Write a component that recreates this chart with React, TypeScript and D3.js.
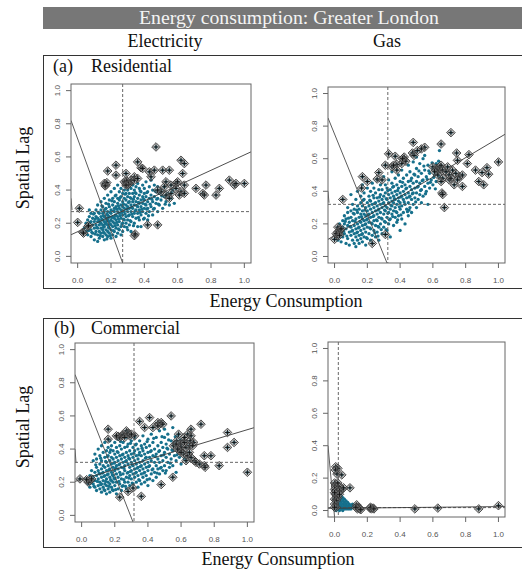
import React from 'react';
import * as d3 from 'd3';

type Pt = [number, number];

// ---- Residential electricity ----
const resElecCloud: Pt[] = [
  [0.04,0.17],[0.05,0.2],[0.05,0.15],[0.06,0.22],[0.06,0.13],[0.07,0.18],[0.07,0.28],[0.07,0.24],[0.08,0.16],[0.08,0.21],[0.08,0.12],[0.08,0.26],
  [0.09,0.19],[0.09,0.14],[0.09,0.23],[0.1,0.17],[0.1,0.21],[0.1,0.1],[0.1,0.26],[0.11,0.15],[0.11,0.19],[0.11,0.24],[0.11,0.28],[0.12,0.13],[0.12,0.17],[0.12,0.21],[0.12,0.23],[0.12,0.31],[0.12,0.09],
  [0.13,0.15],[0.13,0.19],[0.13,0.26],[0.13,0.22],[0.13,0.11],[0.14,0.17],[0.14,0.2],[0.14,0.24],[0.14,0.28],[0.14,0.14],[0.14,0.33],[0.15,0.12],[0.15,0.16],[0.15,0.19],[0.15,0.22],[0.15,0.26],[0.15,0.3],[0.16,0.1],[0.16,0.14],[0.16,0.18],[0.16,0.21],[0.16,0.24],[0.16,0.27],[0.16,0.35],
  [0.17,0.13],[0.17,0.16],[0.17,0.2],[0.17,0.23],[0.17,0.29],[0.17,0.32],[0.18,0.12],[0.18,0.15],[0.18,0.19],[0.18,0.22],[0.18,0.25],[0.18,0.27],[0.18,0.37],[0.19,0.14],[0.19,0.17],[0.19,0.21],[0.19,0.24],[0.19,0.3],[0.19,0.34],[0.2,0.11],[0.2,0.16],[0.2,0.19],[0.2,0.22],[0.2,0.26],[0.2,0.28],[0.2,0.39],
  [0.21,0.13],[0.21,0.18],[0.21,0.21],[0.21,0.24],[0.21,0.31],[0.21,0.35],[0.22,0.15],[0.22,0.2],[0.22,0.23],[0.22,0.27],[0.22,0.29],[0.22,0.33],[0.22,0.41],[0.23,0.12],[0.23,0.17],[0.23,0.22],[0.23,0.25],[0.23,0.3],[0.23,0.37],[0.24,0.14],[0.24,0.19],[0.24,0.24],[0.24,0.27],[0.24,0.32],[0.24,0.35],[0.24,0.43],
  [0.25,0.16],[0.25,0.21],[0.25,0.26],[0.25,0.29],[0.25,0.34],[0.25,0.39],[0.26,0.13],[0.26,0.18],[0.26,0.23],[0.26,0.28],[0.26,0.31],[0.26,0.36],[0.26,0.41],[0.27,0.2],[0.27,0.25],[0.27,0.3],[0.27,0.33],[0.27,0.38],[0.27,0.15],[0.28,0.22],[0.28,0.27],[0.28,0.29],[0.28,0.35],[0.28,0.4],[0.28,0.18],
  [0.29,0.24],[0.29,0.31],[0.29,0.34],[0.29,0.38],[0.29,0.2],[0.29,0.42],[0.3,0.16],[0.3,0.22],[0.3,0.27],[0.3,0.3],[0.3,0.36],[0.3,0.4],[0.31,0.19],[0.31,0.25],[0.31,0.29],[0.31,0.33],[0.31,0.38],[0.32,0.21],[0.32,0.27],[0.32,0.31],[0.32,0.35],[0.32,0.41],[0.32,0.15],
  [0.33,0.24],[0.33,0.29],[0.33,0.33],[0.33,0.38],[0.33,0.43],[0.34,0.2],[0.34,0.26],[0.34,0.31],[0.34,0.36],[0.34,0.4],[0.35,0.23],[0.35,0.28],[0.35,0.33],[0.35,0.38],[0.35,0.42],[0.36,0.18],[0.36,0.26],[0.36,0.3],[0.36,0.35],[0.36,0.44],
  [0.37,0.22],[0.37,0.28],[0.37,0.32],[0.37,0.37],[0.37,0.41],[0.38,0.25],[0.38,0.3],[0.38,0.34],[0.38,0.39],[0.38,0.18],[0.39,0.27],[0.39,0.32],[0.39,0.36],[0.39,0.43],[0.4,0.23],[0.4,0.29],[0.4,0.34],[0.4,0.38],[0.4,0.41],
  [0.41,0.26],[0.41,0.31],[0.41,0.36],[0.41,0.45],[0.42,0.22],[0.42,0.29],[0.42,0.33],[0.42,0.39],[0.43,0.27],[0.43,0.35],[0.43,0.42],[0.44,0.3],[0.44,0.37],[0.44,0.46],[0.45,0.25],[0.45,0.33],[0.45,0.4],
  [0.46,0.29],[0.46,0.36],[0.46,0.43],[0.47,0.32],[0.47,0.39],[0.48,0.27],[0.48,0.35],[0.48,0.42],[0.49,0.31],[0.49,0.38],[0.5,0.34],[0.5,0.4],[0.51,0.29],[0.52,0.36],[0.52,0.42],[0.53,0.33],[0.54,0.38],[0.55,0.31],[0.56,0.35],[0.58,0.32],[0.57,0.4],
  [0.065,0.155],[0.075,0.205],[0.085,0.145],[0.095,0.255],[0.105,0.135],[0.105,0.225],[0.115,0.175],[0.125,0.265],[0.135,0.125],[0.135,0.205],[0.145,0.225],[0.145,0.305],[0.155,0.145],[0.155,0.175],[0.155,0.245],[0.165,0.195],[0.165,0.285],[0.175,0.105],[0.175,0.215],[0.175,0.255],
  [0.185,0.175],[0.185,0.235],[0.185,0.315],[0.195,0.125],[0.195,0.195],[0.195,0.265],[0.205,0.235],[0.205,0.335],[0.215,0.155],[0.215,0.275],[0.225,0.185],[0.225,0.245],[0.225,0.365],[0.235,0.205],[0.235,0.285],[0.245,0.165],[0.245,0.225],[0.245,0.305],[0.255,0.245],[0.255,0.355],
  [0.265,0.195],[0.265,0.265],[0.275,0.225],[0.275,0.315],[0.285,0.255],[0.285,0.375],[0.295,0.175],[0.295,0.285],[0.305,0.245],[0.305,0.325],[0.315,0.215],[0.315,0.355],[0.325,0.255],[0.325,0.295],[0.335,0.185],[0.335,0.345],[0.345,0.275],[0.345,0.385],[0.355,0.305],[0.365,0.235],
  [0.365,0.325],[0.375,0.265],[0.375,0.395],[0.385,0.285],[0.395,0.225],[0.395,0.345],[0.405,0.315],[0.415,0.285],[0.415,0.385],[0.425,0.245],[0.435,0.315],[0.445,0.345],[0.455,0.285],[0.465,0.395],[0.475,0.345],[0.485,0.315],[0.505,0.365],[0.525,0.315],[0.545,0.355],[0.565,0.385],
];
const resElecInfluential: Pt[] = [
  [0.47,0.66],[0.23,0.55],[0.36,0.57],[0.18,0.515],[0.23,0.49],[0.29,0.5],[0.34,0.48],[0.38,0.535],[0.39,0.53],[0.43,0.51],[0.46,0.52],[0.51,0.52],[0.55,0.52],[0.44,0.48],
  [0.16,0.44],[0.17,0.43],[0.175,0.445],[0.165,0.425],
  [0.29,0.44],[0.3,0.45],[0.31,0.44],[0.3,0.43],[0.32,0.46],[0.28,0.45],[0.295,0.455],[0.305,0.435],[0.29,0.43],
  [0.34,0.46],[0.36,0.47],
  [0.62,0.58],[0.64,0.56],[0.63,0.5],
  [0.53,0.45],[0.56,0.43],[0.59,0.44],[0.64,0.43],[0.59,0.41],[0.62,0.39],[0.61,0.37],[0.64,0.38],[0.56,0.38],[0.53,0.37],[0.55,0.35],[0.5,0.39],[0.48,0.4],[0.52,0.42],[0.6,0.45],
  [0.71,0.41],[0.75,0.38],[0.76,0.37],[0.77,0.43],[0.83,0.37],[0.85,0.41],[0.91,0.46],[0.94,0.43],[0.95,0.44],[1.0,0.44],
  [0.42,0.19],[0.48,0.19],[0.34,0.125],[0.345,0.135],
  [0.01,0.29],[0.0,0.205],[0.06,0.18],[0.03,0.145],[0.035,0.14],[0.065,0.185],
];

// ---- Residential gas ----
const resGasCloud: Pt[] = [
  [0.01,0.13],[0.02,0.1],[0.02,0.17],[0.03,0.12],[0.03,0.2],[0.04,0.15],[0.04,0.09],[0.05,0.18],[0.05,0.22],[0.05,0.12],
  [0.06,0.14],[0.06,0.2],[0.06,0.25],[0.07,0.08],[0.07,0.17],[0.07,0.23],[0.08,0.11],[0.08,0.19],[0.08,0.27],[0.08,0.3],[0.09,0.15],[0.09,0.21],[0.09,0.07],[0.1,0.13],[0.1,0.18],[0.1,0.24],[0.1,0.28],[0.1,0.38],
  [0.11,0.1],[0.11,0.16],[0.11,0.22],[0.11,0.32],[0.12,0.08],[0.12,0.14],[0.12,0.19],[0.12,0.26],[0.12,0.29],[0.13,0.12],[0.13,0.17],[0.13,0.23],[0.13,0.35],[0.13,0.06],[0.14,0.1],[0.14,0.15],[0.14,0.2],[0.14,0.27],[0.14,0.31],[0.14,0.4],[0.15,0.13],[0.15,0.18],[0.15,0.24],[0.15,0.29],[0.15,0.08],
  [0.16,0.11],[0.16,0.16],[0.16,0.21],[0.16,0.26],[0.16,0.33],[0.16,0.37],[0.17,0.09],[0.17,0.14],[0.17,0.19],[0.17,0.23],[0.17,0.28],[0.17,0.31],[0.17,0.44],[0.18,0.12],[0.18,0.17],[0.18,0.22],[0.18,0.26],[0.18,0.35],[0.18,0.39],[0.19,0.15],[0.19,0.2],[0.19,0.25],[0.19,0.3],[0.19,0.07],[0.2,0.11],[0.2,0.18],[0.2,0.23],[0.2,0.28],[0.2,0.33],[0.2,0.42],
  [0.21,0.14],[0.21,0.21],[0.21,0.26],[0.21,0.31],[0.21,0.37],[0.22,0.1],[0.22,0.17],[0.22,0.24],[0.22,0.29],[0.22,0.34],[0.22,0.4],[0.23,0.13],[0.23,0.2],[0.23,0.27],[0.23,0.32],[0.23,0.45],[0.24,0.16],[0.24,0.22],[0.24,0.25],[0.24,0.3],[0.24,0.36],[0.24,0.42],[0.25,0.12],[0.25,0.19],[0.25,0.28],[0.25,0.33],[0.25,0.39],
  [0.26,0.15],[0.26,0.22],[0.26,0.26],[0.26,0.31],[0.26,0.36],[0.26,0.47],[0.27,0.18],[0.27,0.24],[0.27,0.29],[0.27,0.34],[0.27,0.41],[0.27,0.1],[0.28,0.2],[0.28,0.27],[0.28,0.32],[0.28,0.38],[0.28,0.44],[0.29,0.14],[0.29,0.23],[0.29,0.3],[0.29,0.35],[0.29,0.41],[0.3,0.18],[0.3,0.26],[0.3,0.33],[0.3,0.37],[0.3,0.49],
  [0.31,0.21],[0.31,0.28],[0.31,0.31],[0.31,0.39],[0.31,0.44],[0.32,0.16],[0.32,0.24],[0.32,0.3],[0.32,0.35],[0.32,0.42],[0.33,0.2],[0.33,0.27],[0.33,0.33],[0.33,0.38],[0.33,0.47],[0.34,0.23],[0.34,0.29],[0.34,0.36],[0.34,0.41],[0.34,0.12],[0.35,0.26],[0.35,0.31],[0.35,0.34],[0.35,0.39],[0.35,0.45],[0.35,0.52],
  [0.36,0.19],[0.36,0.28],[0.36,0.33],[0.36,0.37],[0.36,0.43],[0.37,0.24],[0.37,0.3],[0.37,0.35],[0.37,0.4],[0.37,0.48],[0.38,0.21],[0.38,0.27],[0.38,0.32],[0.38,0.38],[0.38,0.44],[0.39,0.25],[0.39,0.34],[0.39,0.36],[0.39,0.42],[0.39,0.5],[0.4,0.16],[0.4,0.29],[0.4,0.33],[0.4,0.39],[0.4,0.46],
  [0.41,0.23],[0.41,0.31],[0.41,0.37],[0.41,0.43],[0.41,0.53],[0.42,0.27],[0.42,0.35],[0.42,0.4],[0.42,0.48],[0.43,0.2],[0.43,0.32],[0.43,0.38],[0.43,0.44],[0.44,0.29],[0.44,0.36],[0.44,0.42],[0.44,0.5],[0.45,0.25],[0.45,0.33],[0.45,0.39],[0.45,0.46],[0.45,0.56],
  [0.46,0.3],[0.46,0.37],[0.46,0.43],[0.46,0.52],[0.47,0.27],[0.47,0.35],[0.47,0.41],[0.47,0.48],[0.48,0.32],[0.48,0.39],[0.48,0.45],[0.48,0.58],[0.49,0.36],[0.49,0.42],[0.49,0.5],[0.5,0.3],[0.5,0.39],[0.5,0.46],[0.5,0.61],[0.5,0.54],
  [0.51,0.35],[0.51,0.43],[0.51,0.49],[0.52,0.38],[0.52,0.45],[0.52,0.57],[0.53,0.41],[0.53,0.51],[0.54,0.37],[0.54,0.47],[0.54,0.6],[0.55,0.43],[0.55,0.53],[0.55,0.62],[0.56,0.4],[0.56,0.49],[0.57,0.45],[0.57,0.56],[0.58,0.42],[0.58,0.51],[0.59,0.47],[0.6,0.54],[0.6,0.44],[0.61,0.5],[0.62,0.57],[0.62,0.46],[0.63,0.52],[0.64,0.65],[0.64,0.49],[0.65,0.55],[0.57,0.32],[0.53,0.33],
  [0.025,0.145],[0.035,0.175],[0.055,0.155],[0.065,0.215],[0.075,0.125],[0.085,0.235],[0.095,0.185],[0.105,0.155],[0.115,0.265],[0.125,0.215],[0.135,0.145],[0.135,0.285],[0.145,0.175],[0.155,0.215],[0.165,0.135],[0.165,0.245],[0.175,0.345],[0.185,0.195],[0.185,0.285],[0.195,0.115],
  [0.195,0.225],[0.205,0.255],[0.215,0.175],[0.215,0.345],[0.225,0.205],[0.235,0.245],[0.235,0.375],[0.245,0.145],[0.245,0.325],[0.255,0.225],[0.265,0.285],[0.265,0.185],[0.275,0.365],[0.285,0.235],[0.285,0.165],[0.295,0.325],[0.305,0.215],[0.305,0.285],[0.315,0.355],[0.325,0.265],
  [0.325,0.405],[0.335,0.225],[0.345,0.315],[0.355,0.245],[0.355,0.425],[0.365,0.355],[0.375,0.275],[0.385,0.405],[0.395,0.305],[0.405,0.365],[0.405,0.255],[0.415,0.455],[0.425,0.335],[0.435,0.415],[0.445,0.275],[0.455,0.365],[0.465,0.465],[0.475,0.385],[0.485,0.505],[0.495,0.335],
  [0.505,0.425],[0.515,0.525],[0.525,0.405],[0.535,0.465],[0.545,0.555],[0.555,0.385],[0.565,0.475],[0.575,0.525],[0.585,0.455],[0.595,0.575],[0.605,0.485],[0.615,0.415],[0.625,0.515],[0.635,0.585],[0.455,0.285],[0.385,0.225],[0.315,0.165],[0.265,0.125],
];
const resGasInfluential: Pt[] = [
  [0.71,0.76],[0.48,0.7],[0.65,0.69],[0.55,0.67],[0.53,0.66],[0.505,0.65],[0.475,0.635],[0.485,0.62],
  [0.33,0.63],[0.37,0.615],[0.42,0.595],[0.425,0.61],[0.41,0.57],[0.435,0.585],[0.415,0.6],
  [0.31,0.56],[0.35,0.55],[0.38,0.565],[0.38,0.53],[0.36,0.56],
  [0.27,0.515],[0.17,0.49],[0.2,0.46],[0.26,0.475],[0.29,0.47],[0.165,0.42],
  [0.05,0.35],
  [0.745,0.635],[0.82,0.625],[0.75,0.59],[0.81,0.57],[0.86,0.53],[0.9,0.515],[0.93,0.545],[0.94,0.505],[1.0,0.58],[0.88,0.46],[0.91,0.44],
  [0.6,0.55],[0.62,0.54],[0.63,0.53],[0.64,0.55],[0.65,0.56],[0.61,0.52],[0.66,0.53],[0.68,0.52],[0.7,0.5],[0.72,0.53],[0.74,0.51],[0.76,0.49],[0.78,0.5],[0.75,0.47],[0.73,0.44],[0.7,0.47],[0.66,0.48],[0.65,0.46],[0.71,0.48],[0.78,0.43],[0.69,0.55],[0.63,0.5],
  [0.655,0.39],[0.66,0.38],[0.67,0.3],
  [0.0,0.105],[0.02,0.18],[0.02,0.15],[0.025,0.14],[0.03,0.155],[0.018,0.13],[0.035,0.165],[0.04,0.17],[0.01,0.14],[0.03,0.13],
  [0.23,0.08],[0.31,0.135],
];

// ---- Commercial electricity ----
const comElecCloud: Pt[] = [
  [0.03,0.22],[0.04,0.19],[0.05,0.24],[0.05,0.17],[0.06,0.21],[0.06,0.27],[0.07,0.19],[0.07,0.23],[0.07,0.33],[0.08,0.17],[0.08,0.26],[0.08,0.37],[0.08,0.21],
  [0.09,0.15],[0.09,0.24],[0.09,0.29],[0.09,0.34],[0.1,0.18],[0.1,0.22],[0.1,0.27],[0.1,0.4],[0.11,0.16],[0.11,0.2],[0.11,0.25],[0.11,0.31],[0.11,0.36],[0.12,0.14],[0.12,0.19],[0.12,0.23],[0.12,0.28],[0.12,0.33],[0.12,0.42],[0.13,0.17],[0.13,0.21],[0.13,0.26],[0.13,0.3],[0.13,0.38],
  [0.14,0.15],[0.14,0.19],[0.14,0.24],[0.14,0.29],[0.14,0.35],[0.14,0.44],[0.15,0.13],[0.15,0.18],[0.15,0.22],[0.15,0.27],[0.15,0.32],[0.15,0.39],[0.16,0.16],[0.16,0.2],[0.16,0.25],[0.16,0.3],[0.16,0.36],[0.16,0.41],[0.17,0.14],[0.17,0.19],[0.17,0.23],[0.17,0.28],[0.17,0.33],[0.17,0.38],[0.17,0.45],[0.18,0.17],[0.18,0.21],[0.18,0.26],[0.18,0.31],[0.18,0.35],[0.18,0.42],
  [0.19,0.15],[0.19,0.2],[0.19,0.24],[0.19,0.29],[0.19,0.34],[0.19,0.39],[0.2,0.18],[0.2,0.22],[0.2,0.27],[0.2,0.32],[0.2,0.37],[0.2,0.44],[0.21,0.13],[0.21,0.2],[0.21,0.25],[0.21,0.3],[0.21,0.35],[0.21,0.41],[0.22,0.16],[0.22,0.23],[0.22,0.28],[0.22,0.33],[0.22,0.38],[0.22,0.46],[0.23,0.19],[0.23,0.26],[0.23,0.31],[0.23,0.36],[0.23,0.42],
  [0.24,0.15],[0.24,0.22],[0.24,0.29],[0.24,0.34],[0.24,0.4],[0.25,0.18],[0.25,0.25],[0.25,0.32],[0.25,0.37],[0.25,0.44],[0.26,0.2],[0.26,0.27],[0.26,0.3],[0.26,0.35],[0.26,0.41],[0.27,0.16],[0.27,0.23],[0.27,0.33],[0.27,0.38],[0.27,0.47],[0.28,0.2],[0.28,0.26],[0.28,0.31],[0.28,0.36],[0.28,0.43],
  [0.29,0.18],[0.29,0.24],[0.29,0.29],[0.29,0.34],[0.29,0.39],[0.3,0.22],[0.3,0.27],[0.3,0.32],[0.3,0.37],[0.3,0.45],[0.31,0.19],[0.31,0.25],[0.31,0.3],[0.31,0.35],[0.31,0.41],[0.32,0.23],[0.32,0.28],[0.32,0.33],[0.32,0.39],[0.32,0.47],[0.33,0.2],[0.33,0.26],[0.33,0.31],[0.33,0.36],[0.33,0.43],
  [0.34,0.17],[0.34,0.24],[0.34,0.29],[0.34,0.34],[0.34,0.4],[0.35,0.21],[0.35,0.27],[0.35,0.32],[0.35,0.38],[0.35,0.45],[0.36,0.19],[0.36,0.25],[0.36,0.3],[0.36,0.36],[0.36,0.42],[0.37,0.23],[0.37,0.28],[0.37,0.33],[0.37,0.39],[0.37,0.48],[0.38,0.2],[0.38,0.26],[0.38,0.31],[0.38,0.37],[0.38,0.43],
  [0.39,0.24],[0.39,0.29],[0.39,0.35],[0.39,0.41],[0.4,0.18],[0.4,0.27],[0.4,0.32],[0.4,0.38],[0.4,0.46],[0.41,0.22],[0.41,0.3],[0.41,0.35],[0.41,0.42],[0.42,0.25],[0.42,0.33],[0.42,0.39],[0.42,0.49],[0.43,0.21],[0.43,0.28],[0.43,0.36],[0.43,0.44],
  [0.44,0.26],[0.44,0.32],[0.44,0.4],[0.45,0.23],[0.45,0.3],[0.45,0.37],[0.45,0.47],[0.46,0.28],[0.46,0.34],[0.46,0.42],[0.47,0.25],[0.47,0.32],[0.47,0.39],[0.47,0.51],[0.48,0.29],[0.48,0.36],[0.48,0.44],[0.49,0.27],[0.49,0.33],[0.49,0.41],[0.5,0.3],[0.5,0.38],[0.5,0.47],[0.5,0.52],
  [0.51,0.27],[0.51,0.35],[0.51,0.43],[0.52,0.32],[0.52,0.4],[0.52,0.49],[0.53,0.29],[0.53,0.37],[0.54,0.34],[0.54,0.45],[0.55,0.3],[0.55,0.39],[0.55,0.53],[0.56,0.36],[0.56,0.44],[0.57,0.26],[0.57,0.33],[0.58,0.4],[0.58,0.48],[0.59,0.35],[0.6,0.31],[0.6,0.43],[0.61,0.38],[0.62,0.34],
  [0.055,0.195],[0.065,0.235],[0.075,0.175],[0.085,0.305],[0.095,0.205],[0.105,0.255],[0.115,0.185],[0.115,0.345],[0.125,0.255],[0.135,0.155],[0.135,0.235],[0.145,0.325],[0.145,0.205],[0.155,0.245],[0.155,0.355],[0.165,0.175],[0.165,0.275],[0.175,0.215],[0.175,0.395],[0.185,0.245],
  [0.185,0.155],[0.195,0.315],[0.195,0.225],[0.205,0.155],[0.205,0.285],[0.215,0.385],[0.225,0.205],[0.225,0.305],[0.235,0.245],[0.235,0.445],[0.245,0.175],[0.245,0.365],[0.255,0.285],[0.255,0.215],[0.265,0.325],[0.265,0.175],[0.275,0.255],[0.275,0.415],[0.285,0.225],[0.285,0.345],
  [0.295,0.265],[0.295,0.435],[0.305,0.195],[0.305,0.305],[0.315,0.375],[0.325,0.255],[0.325,0.425],[0.335,0.285],[0.345,0.215],[0.345,0.365],[0.355,0.295],[0.365,0.405],[0.375,0.255],[0.385,0.345],[0.395,0.215],[0.395,0.445],[0.405,0.295],[0.415,0.385],[0.425,0.275],[0.435,0.465],
  [0.445,0.355],[0.455,0.255],[0.465,0.385],[0.475,0.285],[0.485,0.475],[0.495,0.365],[0.505,0.255],[0.515,0.405],[0.525,0.455],[0.535,0.315],[0.545,0.395],[0.565,0.475],[0.575,0.365],[0.595,0.455],
];
const comElecInfluential: Pt[] = [
  [0.54,0.6],[0.41,0.59],[0.35,0.567],[0.38,0.53],[0.43,0.53],[0.46,0.56],[0.47,0.55],[0.48,0.56],[0.49,0.55],[0.46,0.54],[0.66,0.52],[0.72,0.55],
  [0.16,0.52],[0.16,0.46],
  [0.22,0.477],[0.24,0.48],[0.27,0.51],[0.28,0.496],[0.29,0.48],[0.32,0.48],[0.23,0.47],[0.25,0.485],[0.26,0.47],[0.3,0.49],[0.21,0.48],
  [0.585,0.49],[0.615,0.45],[0.64,0.49],[0.66,0.48],[0.655,0.45],[0.676,0.44],[0.597,0.43],[0.574,0.45],[0.554,0.42],[0.6,0.41],[0.63,0.41],[0.62,0.44],[0.65,0.42],[0.67,0.42],[0.57,0.43],[0.59,0.39],[0.615,0.37],[0.64,0.36],[0.66,0.35],[0.71,0.31],[0.74,0.3],[0.74,0.36],[0.78,0.36],[0.745,0.29],[0.83,0.3],[0.63,0.33],[0.68,0.33],[0.6,0.38],[0.65,0.38],[0.69,0.32],[0.58,0.4],[0.62,0.47],
  [0.88,0.5],[0.88,0.41],[0.92,0.44],[1.0,0.26],
  [0.55,0.23],[0.48,0.186],[0.36,0.115],[0.23,0.11],[0.28,0.144],[0.31,0.165],
  [-0.01,0.22],[0.05,0.21],[0.04,0.2],[0.06,0.22],[0.03,0.215],
];

// ---- Commercial gas ----
const comGasCloud: Pt[] = [
  [0.0,0.01],[0.0,0.03],[0.0,0.05],[0.01,0.0],[0.01,0.02],[0.01,0.04],[0.01,0.06],[0.01,0.08],[0.02,0.01],[0.02,0.03],[0.02,0.05],[0.02,0.07],[0.02,0.1],
  [0.03,0.0],[0.03,0.02],[0.03,0.04],[0.03,0.06],[0.03,0.09],[0.04,0.01],[0.04,0.03],[0.04,0.05],[0.04,0.07],[0.05,0.02],[0.05,0.04],[0.05,0.06],[0.05,0.0],
  [0.06,0.01],[0.06,0.03],[0.06,0.05],[0.06,0.07],[0.07,0.02],[0.07,0.04],[0.07,0.06],[0.08,0.01],[0.08,0.03],[0.08,0.05],[0.09,0.02],[0.09,0.04],[0.1,0.01],[0.1,0.03],
  [0.11,0.02],[0.11,0.04],[0.12,0.02],[0.12,0.03],[0.13,0.02],[0.02,0.12],[0.01,0.11],[0.04,0.09],[0.0,0.07],[0.05,0.08],[0.03,0.01],[0.07,0.01],[0.09,0.01],
  [0.015,0.015],[0.025,0.025],[0.035,0.035],[0.045,0.015],[0.055,0.025],[0.065,0.035],[0.075,0.025],[0.085,0.015],[0.095,0.03],[0.105,0.02],
];
const comGasInfluential: Pt[] = [
  [0.007,0.27],[0.02,0.26],[0.005,0.25],[0.015,0.225],[0.044,0.22],[0.094,0.14],[0.045,0.13],[0.055,0.14],
  [0.0,0.17],[0.01,0.16],[0.005,0.15],[0.015,0.14],[0.0,0.13],[0.02,0.13],[0.01,0.12],[0.025,0.11],[0.005,0.1],[0.015,0.09],[0.02,0.08],[0.0,0.07],[0.01,0.06],[0.025,0.15],[0.03,0.12],[0.0,0.11],[0.02,0.17],[0.03,0.1],[0.0,0.04],[0.01,0.02],[0.0,0.02],
  [0.135,0.035],[0.145,0.02],[0.14,0.01],[0.155,0.01],[0.15,0.015],[0.13,0.02],[0.16,0.005],
  [0.215,0.015],[0.225,0.01],[0.235,0.015],[0.22,0.02],[0.24,0.01],
  [0.49,0.01],[0.63,0.015],[0.88,0.01],[1.0,0.03],
];

// Summary lines per panel: res-elec, res-gas, com-elec, com-gas
const meanX = [0.27, 0.325, 0.316, 0.023];
const meanY = [0.27, 0.32, 0.32, 0.018];
const regIntercept = [0.149, 0.129, 0.217, 0.014];
const regSlope = [0.463, 0.597, 0.3, 0.01];
const crossLines: [number, number, number, number][] = [
  [-0.04, 0.82, 0.27, -0.04],
  [-0.04, 0.85, 0.32, -0.04],
  [-0.04, 0.85, 0.31, -0.04],
  [-0.04, 0.4, 0.0, -0.04],
];
const edgeMarks: ([number, number, number, number] | null)[] = [
  [-0.04, 0.35, -0.034, 0.28],
  [-0.04, 0.4, -0.034, 0.33],
  [-0.04, 0.4, -0.034, 0.32],
  null,
];

const axisTicks = [0, 0.2, 0.4, 0.6, 0.8, 1.0];
const axisDomain: [number, number] = [-0.04, 1.04];

const serif = "'Liberation Serif', 'DejaVu Serif', serif";
const sans = "'Liberation Sans', Arial, sans-serif";
const teal = '#16708c';

type Frame = { x0: number; x1: number; y0: number; y1: number };

const frames: Frame[] = [
  { x0: 71, x1: 251, y0: 84, y1: 263 },
  { x0: 328, x1: 505, y0: 87, y1: 263 },
  { x0: 75, x1: 254, y0: 343, y1: 522 },
  { x0: 328, x1: 505, y0: 342, y1: 517 },
];
const clouds = [resElecCloud, resGasCloud, comElecCloud, comGasCloud];
const influential = [resElecInfluential, resGasInfluential, comElecInfluential, comGasInfluential];

const fmt = d3.format('.1f');

function MoranPanel({ i }: { i: number }) {
  const f = frames[i];
  const x = d3.scaleLinear().domain(axisDomain).range([f.x0, f.x1]);
  const y = d3.scaleLinear().domain(axisDomain).range([f.y1, f.y0]);
  const clipId = `clip-${i}`;
  const line = d3.line<Pt>().x((d) => x(d[0])).y((d) => y(d[1]));
  const [lo, hi] = axisDomain;
  const reg: Pt[] = [
    [lo, regIntercept[i] + regSlope[i] * lo],
    [hi, regIntercept[i] + regSlope[i] * hi],
  ];
  const c = crossLines[i];
  const e = edgeMarks[i];
  const diamond = 'M0,-4.3L4.3,0L0,4.3L-4.3,0Z';
  const plus = 'M-2.7,0H2.7M0,-2.7V2.7';
  return (
    <g>
      <defs>
        <clipPath id={clipId}>
          <rect x={f.x0} y={f.y0} width={f.x1 - f.x0} height={f.y1 - f.y0} />
        </clipPath>
      </defs>
      <g clipPath={`url(#${clipId})`}>
        {clouds[i].map((d, k) => (
          <circle key={k} cx={x(d[0])} cy={y(d[1])} r={1.65} fill={teal} />
        ))}
        {influential[i].map((d, k) => (
          <circle key={'t' + k} cx={x(d[0])} cy={y(d[1])} r={1.65} fill={teal} />
        ))}
        <line x1={x(meanX[i])} x2={x(meanX[i])} y1={f.y0} y2={f.y1} stroke="#555" strokeWidth={0.9} strokeDasharray="3,2" />
        <line x1={f.x0} x2={f.x1} y1={y(meanY[i])} y2={y(meanY[i])} stroke="#555" strokeWidth={0.9} strokeDasharray="3,2" />
        <path d={line(reg) || ''} stroke="#3a3a3a" strokeWidth={0.9} fill="none" />
        <path d={line([[c[0], c[1]], [c[2], c[3]]]) || ''} stroke="#4a4a4a" strokeWidth={0.9} fill="none" />
        {e && (
          <path d={line([[e[0], e[1]], [e[2], e[3]]]) || ''} stroke="#4a4a4a" strokeWidth={0.9} fill="none" />
        )}
        {influential[i].map((d, k) => (
          <g key={'d' + k} transform={`translate(${x(d[0])},${y(d[1])})`}>
            <path d={diamond} fill="rgba(140,140,140,0.45)" stroke="#3a3a3a" strokeWidth={0.9} />
            <path d={plus} stroke="#111" strokeWidth={0.9} />
          </g>
        ))}
      </g>
      <rect x={f.x0} y={f.y0} width={f.x1 - f.x0} height={f.y1 - f.y0} fill="none" stroke="#666" strokeWidth={1} />
      {axisTicks.map((t) => (
        <g key={'x' + t}>
          <line x1={x(t)} x2={x(t)} y1={f.y1} y2={f.y1 + 5} stroke="#666" />
          <text x={x(t)} y={f.y1 + 20} textAnchor="middle" fontFamily={sans} fontSize={8} fill="#555">
            {fmt(t)}
          </text>
        </g>
      ))}
      {axisTicks.map((t) => (
        <g key={'y' + t}>
          <line x1={f.x0 - 5} x2={f.x0} y1={y(t)} y2={y(t)} stroke="#666" />
          <text
            transform={`translate(${f.x0 - 11},${y(t)}) rotate(-90)`}
            textAnchor="middle"
            fontFamily={sans}
            fontSize={8}
            fill="#555"
          >
            {fmt(t)}
          </text>
        </g>
      ))}
    </g>
  );
}

export default function App() {
  return (
    <svg
      width={522}
      height={577}
      viewBox="0 0 522 577"
      style={{ position: 'absolute', left: 0, top: 0, background: '#fff' }}
    >
      <rect x={43} y={7} width={479} height={22} fill="#777" />
      <text x={289} y={24} textAnchor="middle" fontFamily={serif} fontSize={18} fill="#f4f4f4" textLength={300} lengthAdjust="spacingAndGlyphs">
        Energy consumption: Greater London
      </text>
      <text x={165} y={47} textAnchor="middle" fontFamily={serif} fontSize={18} fill="#111">Electricity</text>
      <text x={387} y={47} textAnchor="middle" fontFamily={serif} fontSize={18} fill="#111">Gas</text>

      <rect x={43.5} y={55.5} width={490} height={233} fill="none" stroke="#333" strokeWidth={1} />
      <text x={53} y={72} fontFamily={serif} fontSize={18} fill="#111">(a)</text>
      <text x={91} y={72} fontFamily={serif} fontSize={18} fill="#111">Residential</text>

      <text x={286} y={307} textAnchor="middle" fontFamily={serif} fontSize={18} fill="#111">Energy Consumption</text>

      <rect x={43.5} y={318.5} width={490} height={229} fill="none" stroke="#333" strokeWidth={1} />
      <text x={54} y={334} fontFamily={serif} fontSize={18} fill="#111">(b)</text>
      <text x={91} y={334} fontFamily={serif} fontSize={18} fill="#111">Commercial</text>

      <text x={278} y={565} textAnchor="middle" fontFamily={serif} fontSize={18} fill="#111">Energy Consumption</text>

      <text transform="translate(28.5,168) rotate(-90)" textAnchor="middle" fontFamily={serif} fontSize={18} fill="#111">Spatial Lag</text>
      <text transform="translate(28.5,427) rotate(-90)" textAnchor="middle" fontFamily={serif} fontSize={18} fill="#111">Spatial Lag</text>

      {frames.map((_, i) => (
        <MoranPanel key={i} i={i} />
      ))}
    </svg>
  );
}
